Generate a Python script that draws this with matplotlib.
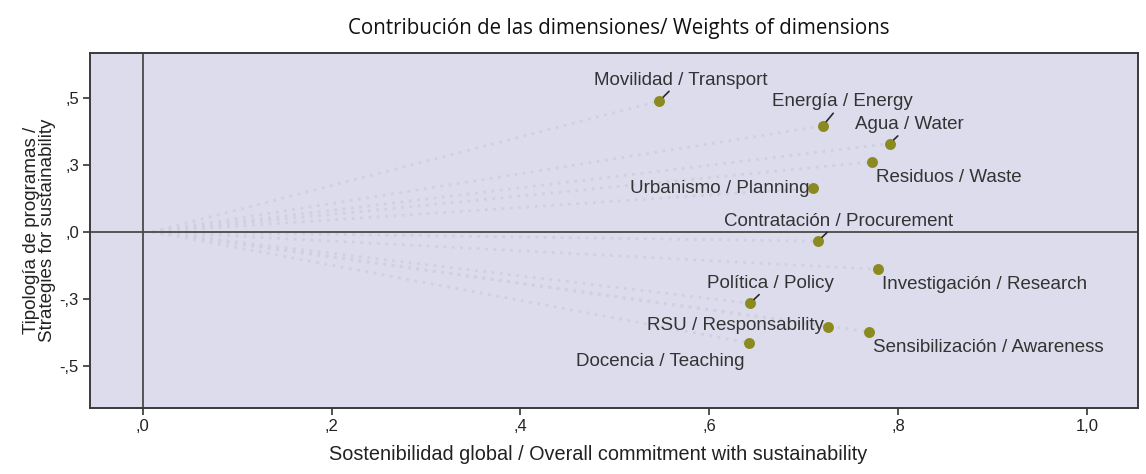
import matplotlib.pyplot as plt
import numpy as np

# Dimension labels and their coordinates (global commitment, strategy typology)
labels = [
    "Movilidad / Transport", "Energía / Energy", "Agua / Water",
    "Residuos / Waste", "Urbanismo / Planning", "Contratación / Procurement",
    "Investigación / Research", "Política / Policy", "RSU / Responsability",
    "Sensibilización / Awareness", "Docencia / Teaching",
]
overall = [0.547, 0.720, 0.791, 0.772, 0.710, 0.715, 0.779, 0.643, 0.726, 0.769, 0.642]
strategy = [0.488, 0.395, 0.329, 0.261, 0.163, -0.035, -0.140, -0.267, -0.354, -0.373, -0.415]

x_ticks = [0.0, 0.2, 0.4, 0.6, 0.8, 1.0]
x_ticklabels = [",0", ",2", ",4", ",6", ",8", "1,0"]
y_ticks = [0.5, 0.25, 0.0, -0.25, -0.5]
y_ticklabels = [",5", ",3", ",0", "-,3", "-,5"]

# label placement: offset in pixels, alignment, leader line
offsets = [(21, 21), (20, 24), (20, 19), (4, -16), (-4, 0), (21, 20),
           (4, -15), (21, 20), (-4, 1), (4, -16), (-4, -18)]
aligns = ["center", "center", "center", "left", "right", "center",
          "left", "center", "right", "left", "right"]
leader = [True, True, True, False, False, True, False, True, False, False, False]

plt.rcParams['font.family'] = ['Liberation Sans', 'DejaVu Sans']

fig = plt.figure(figsize=(11.46, 4.74), dpi=100)
ax = fig.add_axes([0.0785, 0.139, 0.9145, 0.749])
ax.set_facecolor('#dcdcec')

# faint vectors from origin
for x, y in zip(overall, strategy):
    ax.plot([0.01, x], [0, y], ls=(0, (1, 2)), color='#d0d0e0', lw=2.0, zorder=1)

ax.axhline(0, color='#4a4a4a', lw=1.3, zorder=2)
ax.axvline(0, color='#4a4a4a', lw=1.3, zorder=2)

ax.scatter(overall, strategy, s=62, color='#8a8a20', zorder=4, linewidths=0)

for lab, x, y, off, ha, ld in zip(labels, overall, strategy, offsets, aligns, leader):
    kw = {}
    if ld:
        kw['arrowprops'] = dict(arrowstyle='-', color='#2a2a2a', lw=1.2,
                                shrinkA=0, shrinkB=4)
    ax.annotate(lab, xy=(x, y), xytext=off, textcoords='offset pixels',
                ha=ha, va='center', fontsize=13.5, color='#333333', zorder=5, **kw)

ax.set_xlim(-0.056, 1.054)
ax.set_ylim(-0.658, 0.667)
ax.set_xticks(x_ticks)
ax.set_xticklabels(x_ticklabels)
ax.set_yticks(y_ticks)
ax.set_yticklabels(y_ticklabels)
ax.tick_params(axis='both', direction='out', length=5, width=1.2,
               color='#333333', labelsize=12, labelcolor='#222222', pad=3)

for sp in ax.spines.values():
    sp.set_color('#3a3a3a')
    sp.set_linewidth(1.4)

ax.set_xlabel("Sostenibilidad global / Overall commitment with sustainability",
              fontsize=14.3, color='#222222')
ax.xaxis.set_label_coords(0.485, -0.105)
ax.set_ylabel("Tipología de programas /\nStrategies for sustainability",
              fontsize=13.5, color='#222222', linespacing=0.95)
ax.yaxis.set_label_coords(-0.032, 0.5)

fig.text(0.54, 0.94, "Contribución de las dimensiones/ Weights of dimensions",
         ha='center', va='center', fontsize=14.8, family=['Open Sans', 'DejaVu Sans'],
         color='#111111')

fig.savefig('out.png', dpi=100)
